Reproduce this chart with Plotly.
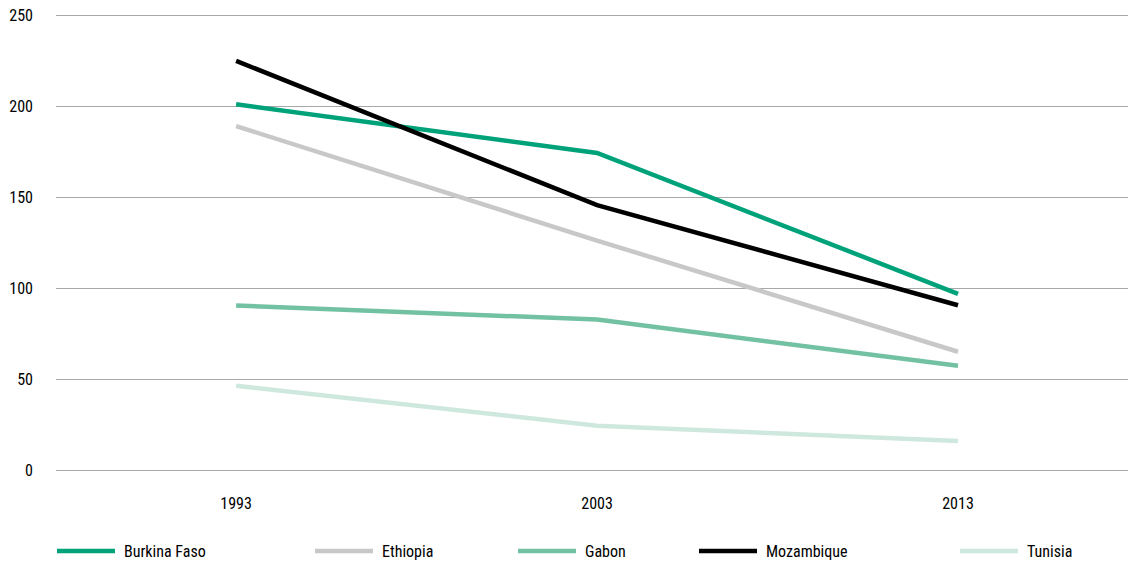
import plotly.graph_objects as go

years = ["1993", "2003", "2013"]
series_names = ["Burkina Faso", "Ethiopia", "Gabon", "Mozambique", "Tunisia"]
burkina_faso = [201.3, 174.5, 97.0]
ethiopia = [189.3, 126.3, 65.1]
gabon = [90.5, 82.8, 57.4]
mozambique = [225.2, 145.8, 90.7]
tunisia = [46.4, 24.4, 16.0]
y_ticks = [0, 50, 100, 150, 200, 250]

series_values = [burkina_faso, ethiopia, gabon, mozambique, tunisia]
colors = ["#00a27a", "#c8c8c8", "#72c1a2", "#000000", "#cfe8de"]

FONT = "Liberation Sans Narrow, Roboto Condensed, Arial Narrow, Roboto, sans-serif"
W, H = 1128, 565
L, R, T, B = 56, 0, 14, 95
plot_w = W - L - R
plot_h = H - T - B
Y_MAX = 251.0

fig = go.Figure()
for name, vals, col in zip(series_names, series_values, colors):
    fig.add_trace(go.Scatter(
        x=years, y=vals, name=name, mode="lines",
        line=dict(color=col, width=4.5),
        showlegend=False, hoverinfo="x+y+name",
    ))

# custom legend (positions in pixels converted to paper coordinates)
legend_px = [55, 313, 516, 697, 958]
sample_len = 62
legend_y_px = 551


def px_to_paper_x(px):
    return (px - L) / plot_w


def py_to_paper_y(py):
    return (H - B - py) / plot_h


ly = py_to_paper_y(legend_y_px)
for name, col, px in zip(series_names, colors, legend_px):
    fig.add_shape(type="line", xref="paper", yref="paper",
                  x0=px_to_paper_x(px + 2), x1=px_to_paper_x(px + sample_len - 2),
                  y0=ly, y1=ly, line=dict(color=col, width=4.5))
    fig.add_annotation(xref="paper", yref="paper",
                       x=px_to_paper_x(px + sample_len + 5), y=ly,
                       text=name, showarrow=False, xanchor="left", yanchor="middle",
                       font=dict(family=FONT, size=16, color="#000000"))

fig.update_layout(
    width=W, height=H,
    margin=dict(l=L, r=R, t=T, b=B, pad=0),
    paper_bgcolor="white", plot_bgcolor="white",
    font=dict(family=FONT, size=16, color="#000000"),
    showlegend=False,
    xaxis=dict(
        type="category", range=[-0.499, 2.471],
        showgrid=False, zeroline=False, showline=False,
        ticks="", ticklabelstandoff=22,
        tickfont=dict(family=FONT, size=16, color="#000000"),
    ),
    yaxis=dict(
        range=[0, Y_MAX], tickvals=y_ticks,
        showgrid=True, gridcolor="#a8a8a8", gridwidth=1,
        zeroline=True, zerolinecolor="#a8a8a8", zerolinewidth=1,
        showline=False, ticks="", ticklabelstandoff=22,
        tickfont=dict(family=FONT, size=16, color="#000000"),
    ),
)

fig.write_html("out.html")
